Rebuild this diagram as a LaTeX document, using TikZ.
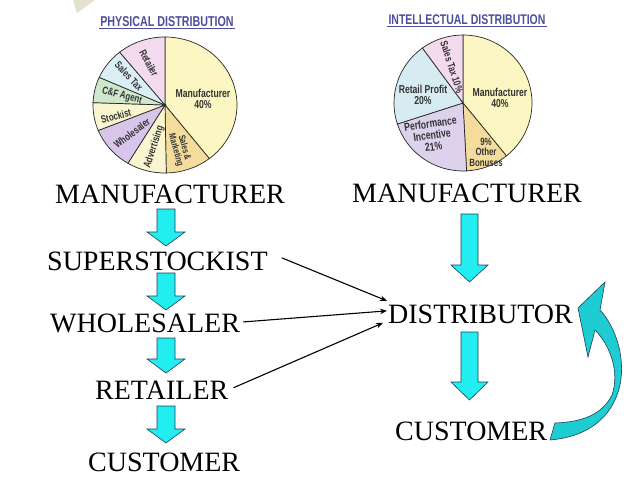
\documentclass[tikz,border=0pt]{standalone}
\usepackage{fontspec}
\setmainfont{Liberation Serif}
\newfontfamily\piefont{Liberation Sans}[FakeStretch=0.75]
\usetikzlibrary{calc,arrows.meta}
\definecolor{arrowcyan}{HTML}{22EEF2}
\definecolor{curvecyan}{HTML}{1ECDD2}
\definecolor{arrowline}{HTML}{1F3F5A}
\definecolor{pietext}{HTML}{333333}
\definecolor{titleblue}{HTML}{4E4E9E}
\definecolor{cYellow}{HTML}{FBF6C2}
\definecolor{cOrange}{HTML}{F4DD9C}
\definecolor{cYellowB}{HTML}{F8F5CF}
\definecolor{cPurple}{HTML}{D9C4EA}
\definecolor{cGreen}{HTML}{CFE7CA}
\definecolor{cBlue}{HTML}{DCEEF6}
\definecolor{cPink}{HTML}{F3DAEE}
\definecolor{cLav}{HTML}{DCD2EC}
\definecolor{cBlueR}{HTML}{D7EBF3}
\definecolor{corner}{HTML}{E4E1CF}
\newcommand\blockarr[6]{%
  \filldraw[blockarrow] ({#1-#5},#2) -- ({#1+#5},#2) -- ({#1+#5},#3) -- ({#1+#6},#3)
    -- (#1,#4) -- ({#1-#6},#3) -- ({#1-#5},#3) -- cycle;}
\newcommand\pieslice[5]{%
  \filldraw[slice, fill=#1] (0,0) -- (#2:#4 and #5)
    arc[start angle=#2, end angle=#3, x radius=#4, y radius=#5] -- cycle;}
\begin{document}
\begin{tikzpicture}[x=1pt,y=-1pt,
  lbl/.style={font=\fontsize{28}{30}\selectfont, anchor=base west, inner sep=0pt},
  blockarrow/.style={fill=arrowcyan, draw=arrowline, line width=0.6pt},
  linkarr/.style={-{Stealth[length=7pt,width=5.5pt]}, line width=1.1pt},
  slice/.style={draw=black!85, line width=0.7pt},
  pietxt/.style={font=\piefont\bfseries\fontsize{10.5}{10.5}\selectfont, text=pietext, align=center, inner sep=0pt},
  piebig/.style={font=\piefont\bfseries\fontsize{11.5}{11.5}\selectfont, text=pietext, align=center, inner sep=0pt},
  ptitle/.style={font=\piefont\bfseries\fontsize{14.3}{15}\selectfont, text=titleblue, inner sep=1pt}]
\useasboundingbox (0,0) rectangle (638,479);
\fill[white] (0,0) rectangle (638,479);
\fill[corner] (73,0) -- (95,0) -- (77,13) -- cycle;

% ---------- left pie ----------
\node[ptitle] (ptl) at (167,22) {PHYSICAL DISTRIBUTION};
\draw[titleblue, line width=0.8pt] (ptl.south west) -- (ptl.south east);
\begin{scope}[shift={(165,105)}, y=1pt]
  \pieslice{cYellow}{-52}{90}{72}{68}
  \pieslice{cOrange}{-89}{-52}{72}{68}
  \pieslice{cYellowB}{-121}{-89}{72}{68}
  \pieslice{cPurple}{-158}{-121}{72}{68}
  \pieslice{cYellowB}{178}{202}{72}{68}
  \pieslice{cGreen}{156}{178}{72}{68}
  \pieslice{cBlue}{129}{156}{72}{68}
  \pieslice{cPink}{90}{129}{72}{68}
\end{scope}
\node[piebig] (lm) at (203,99) {Manufacturer\\40\%};
\node[pietxt, rotate=-62] (lr) at (149,63) {Retailer};
\node[pietxt, rotate=-47] (lst) at (129,76) {Sales Tax};
\node[pietxt, rotate=-15] (lcf) at (122,96) {C\&F Agent};
\node[pietxt, rotate=15] (lsk) at (116,116) {Stockist};
\node[pietxt, rotate=37] (lws) at (132,133) {Wholesaler};
\node[pietxt, rotate=72] (lad) at (154,147) {Advertising};
\node[pietxt, rotate=-75, font=\piefont\bfseries\fontsize{9.5}{9}\selectfont] (lsm) at (180,149) {Sales \&\\Marketing};

% ---------- right pie ----------
\node[ptitle, font=\piefont\bfseries\fontsize{14}{15}\selectfont] (ptr) at (467,20) {INTELLECTUAL DISTRIBUTION};
\draw[titleblue, line width=0.8pt] (ptr.south west) -- (ptr.south east);
\begin{scope}[shift={(463,103)}, y=1pt]
  \pieslice{cYellow}{-51}{90}{69}{68}
  \pieslice{cOrange}{-87}{-51}{69}{68}
  \pieslice{cLav}{-162}{-87}{69}{68}
  \pieslice{cBlueR}{126}{198}{69}{68}
  \pieslice{cPink}{90}{126}{69}{68}
\end{scope}
\node[piebig] (rm) at (500,98) {Manufacturer\\40\%};
\node[pietxt, rotate=-72] (rst) at (452,67) {Sales Tax 10\%};
\node[piebig] (rrp) at (423,95) {Retail Profit\\20\%};
\node[piebig, rotate=8] (rpi) at (432,135) {Performance\\Incentive\\21\%};
\node[pietxt] (rob) at (486,152) {9\%\\Other\\Bonuses};

% ---------- left chain ----------
\node[lbl] (lman) at (55,203) {MANUFACTURER};
\node[lbl] (ss) at (47,270) {SUPERSTOCKIST};
\node[lbl] (ws) at (50,332) {WHOLESALER};
\node[lbl] (rt) at (95,399) {RETAILER};
\node[lbl] (lcu) at (88,471) {CUSTOMER};
\blockarr{166}{209}{232}{246}{9}{19}
\blockarr{166}{273}{296}{310}{9}{19}
\blockarr{166}{338}{359}{373}{9}{19}
\blockarr{166}{406}{429}{443}{9}{19}

% ---------- right chain ----------
\node[lbl] (rman) at (352,202) {MANUFACTURER};
\node[lbl] (dist) at (388,323) {DISTRIBUTOR};
\node[lbl] (rcu) at (395,440) {CUSTOMER};
\blockarr{469.5}{214}{265}{282}{8.5}{18.5}
\blockarr{469.5}{332}{382}{400}{8.5}{18.5}

% ---------- links ----------
\draw[linkarr] ($(ss.east)+(14,-3)$) -- ($(dist.west)+(-1,-13)$);
\draw[linkarr] ($(ws.east)+(3,-1)$) -- ($(dist.west)+(-1,-3)$);
\draw[linkarr] ($(rt.east)+(5,-2)$) -- ($(dist.west)+(-5,9)$);

% ---------- curved arrow ----------
\filldraw[fill=curvecyan, draw=arrowline, line width=0.6pt]
  (550,440) .. controls (585,437) and (612,420) .. (620,385)
  .. controls (626,355) and (614,325) .. (600,310)
  -- (605,282) -- (578,308) -- (588,357) -- (595,330)
  .. controls (610,345) and (620,372) .. (612,395)
  .. controls (603,413) and (585,422) .. (555,423) -- cycle;
\end{tikzpicture}
\end{document}
